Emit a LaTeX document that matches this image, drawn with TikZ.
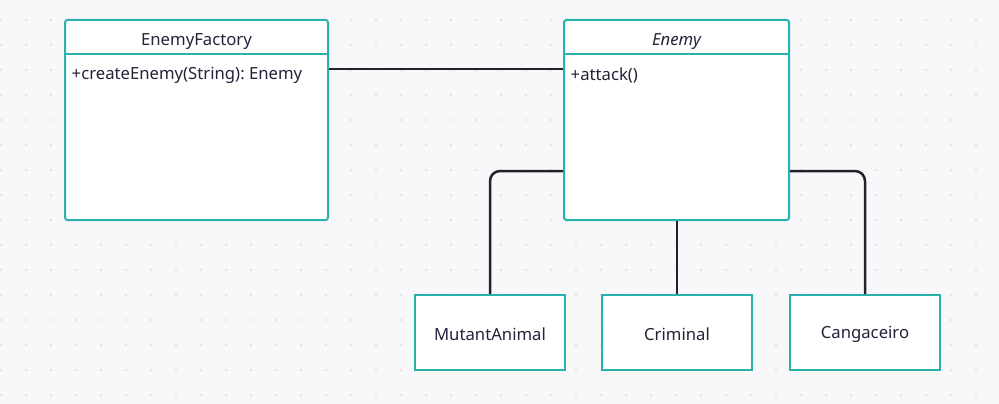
\documentclass[tikz,border=0pt]{standalone}
\usepackage{fontspec}
\setmainfont{Noto Sans}
\frenchspacing
\definecolor{bg}{HTML}{F8F8FA}
\definecolor{dotc}{HTML}{E1E1E7}
\definecolor{teal}{HTML}{2AB1AE}
\definecolor{ink}{HTML}{22222E}
\definecolor{txt}{HTML}{23233A}
\begin{document}
\begin{tikzpicture}[x=1pt,y=-1pt,
  cls/.style={draw=teal,line width=2pt,fill=white,rounded corners=2.5pt,inner sep=0pt},
  leaf/.style={draw=teal,line width=2pt,fill=white,inner sep=0pt,minimum width=150pt,minimum height=75pt},
  lbl/.style={font=\fontsize{16.7}{20}\selectfont,text=txt,inner sep=0pt},
  conn/.style={draw=ink,line width=2.5pt,rounded corners=10pt}]
\fill[bg] (0,0) rectangle (999,404);
\useasboundingbox (0,0) rectangle (999,404);
\foreach \i in {0,...,39}{\foreach \j in {0,...,15}{\fill[dotc] ({1+25*\i},{20+25*\j}) circle (1.3pt);}}
% classes
\node[cls,minimum width=263pt,minimum height=200pt] (EF) at (196.5,120) {};
\draw[teal,line width=2pt] (EF.north west) ++(0,35.5) coordinate (efd1) -- (efd1 -| EF.east);
\node[lbl] (EFn) at (196.5,41.5) {EnemyFactory};
\node[lbl,anchor=west] (EFm) at (71.5,75.5) {+createEnemy(String): Enemy};
\node[cls,minimum width=225pt,minimum height=200pt] (EN) at (676.5,120) {};
\draw[teal,line width=2pt] (EN.north west) ++(0,35.5) coordinate (end1) -- (end1 -| EN.east);
\node[lbl] (ENn) at (676.5,41.5) {\itshape Enemy};
\node[lbl,anchor=west] (ENm) at (570.5,75.5) {+attack()};
% leaves
\node[leaf] (MA) at (490,332.5) {};
\node[leaf] (CR) at (677,332.5) {};
\node[leaf] (CG) at (865,332.5) {};
\node[lbl] (MAt) at (490,334.5) {MutantAnimal};
\node[lbl] (CRt) at (677,334.5) {Criminal};
\node[lbl] (CGt) at (865,334.5) {Cangaceiro};
% connectors
\path (EF.north east) ++(0,50) coordinate (efc);
\draw[conn] (efc) -- (efc -| EN.west);
\path (EN.south west) ++(0,-50) coordinate (enl);
\path (EN.south east) ++(0,-50) coordinate (enr);
\draw[conn] (enl) -| (MA.north);
\draw[conn] (enr) -| (CG.north);
\draw[conn] (EN.south -| CR.north) -- (CR.north);
\end{tikzpicture}
\end{document}
